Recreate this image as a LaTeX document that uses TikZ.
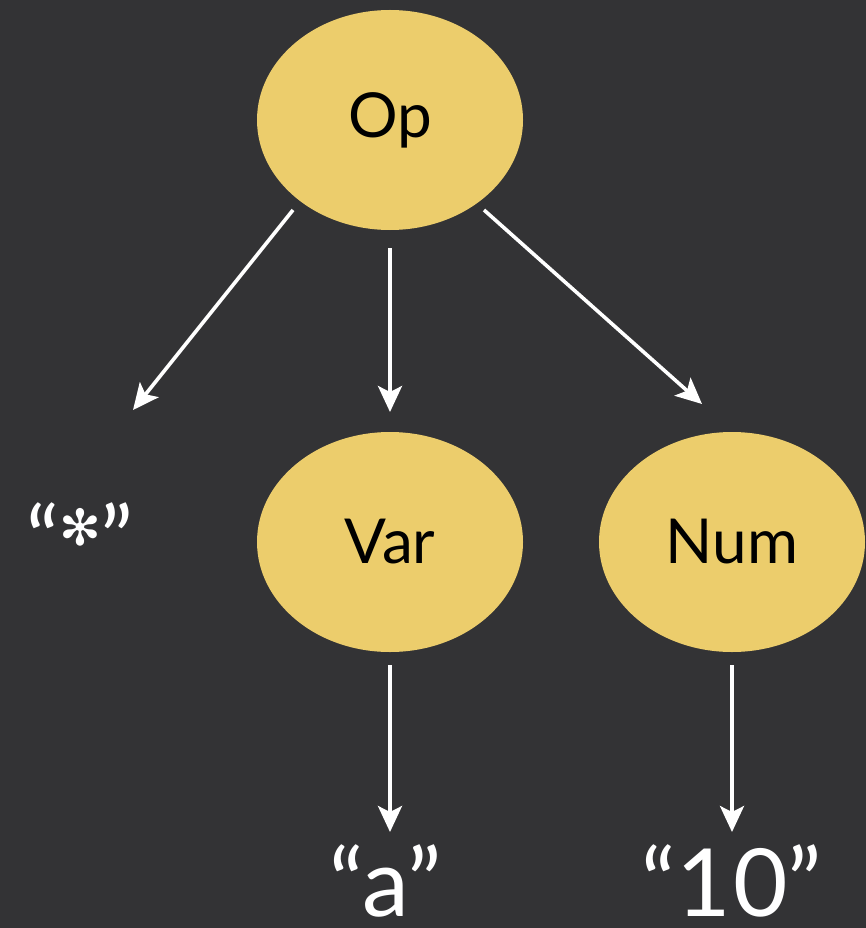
\documentclass[tikz,border=0pt]{standalone}
\usepackage{fontspec}
\setmainfont{Lato}
\newfontfamily\symfont{DejaVu Sans}
\usetikzlibrary{arrows.meta,shapes.geometric}
\definecolor{bg}{RGB}{51,51,53}
\definecolor{blob}{RGB}{236,205,108}
\tikzset{
  blobnode/.style={ellipse, fill=blob, minimum width=266pt, minimum height=220pt, inner sep=0pt,
    font=\fontsize{62}{70}\selectfont, text=black},
  leaf/.style={text=white, inner sep=0pt, text depth=0pt},
  conn/.style={white, line width=3.6pt, -{Stealth[length=26pt,width=24pt,inset=6pt]}}
}
\begin{document}
\begin{tikzpicture}[x=1pt,y=-1pt]
\fill[bg] (0,0) rectangle (866,928);
\useasboundingbox (0,0) rectangle (866,928);
\node[blobnode] (op) at (390,120) {Op};
\node[blobnode] (var) at (390,542) {Var};
\node[blobnode] (num) at (732,542) {Num};
\node[leaf, font=\fontsize{90}{100}\selectfont, anchor=base] (star) at (80,571) {“\raisebox{26pt}{\symfont\fontsize{50}{60}\selectfont ✻}”};
\node[leaf, font=\fontsize{94}{100}\selectfont, anchor=base] (a) at (386,916) {“a”};
\node[leaf, font=\fontsize{94}{100}\selectfont, anchor=base] (ten) at (732,916) {“1\kern3pt0”};
\coordinate (s1) at (293,210); \coordinate (e1) at (133,410);
\coordinate (s2) at (390,248); \coordinate (e2) at (390,412);
\coordinate (s3) at (484,210); \coordinate (e3) at (702,404);
\coordinate (s4) at (390,665); \coordinate (e4) at (390,832);
\coordinate (s5) at (732,665); \coordinate (e5) at (732,832);
\draw[conn] (s1) -- (e1);
\draw[conn] (s2) -- (e2);
\draw[conn] (s3) -- (e3);
\draw[conn] (s4) -- (e4);
\draw[conn] (s5) -- (e5);
\end{tikzpicture}
\end{document}
